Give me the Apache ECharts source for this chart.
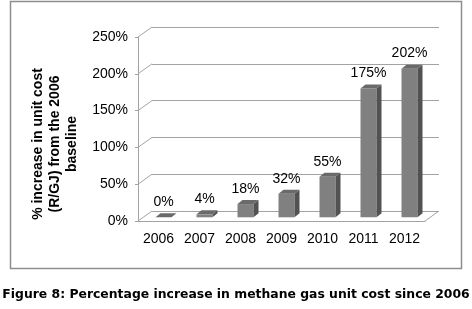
<!DOCTYPE html>
<html lang="en">
<head>
<meta charset="UTF-8">
<title>Methane gas unit cost</title>
<script src="https://cdn.jsdelivr.net/npm/echarts@6/dist/echarts.min.js"></script>
<style>html,body{margin:0;padding:0;background:#fff}</style>
</head>
<body>
<div id="main" style="width:472px;height:309px;"></div>
<script type="text/javascript">
// years on the x axis
var years = ['2006', '2007', '2008', '2009', '2010', '2011', '2012'];
// % increase in unit cost (R/GJ) from the 2006 baseline
var increase = [0, 4, 18, 32, 55, 175, 202];
// y axis ticks
var yTicks = [0, 50, 100, 150, 200, 250];

var font = '"Liberation Sans", Arial, sans-serif';
var gridColor = '#a3a3a3';
var wallX = 14, wallY = -10;   // back wall offset from the front plane

var myChart = echarts.init(document.getElementById('main'));

// 3d-looking bar: front face, right side and top
function renderBar(params, api) {
    var cat = api.value(0), val = api.value(1);
    var base = api.coord([cat, 0]);
    var top = api.coord([cat, val]);
    var w = 16, ox = 5, oy = -3.7, bx = 5, by = -4;
    var x0 = base[0] - w / 2 + ox, x1 = x0 + w;
    var yb = base[1] + oy, yt = top[1] + oy;
    return {
        type: 'group',
        children: [
            { type: 'rect', shape: { x: x0, y: yt, width: w, height: yb - yt }, style: { fill: '#808080' } },
            { type: 'polygon', shape: { points: [[x1, yt], [x1 + bx, yt + by], [x1 + bx, yb + by], [x1, yb]] }, style: { fill: '#525252' } },
            { type: 'polygon', shape: { points: [[x0, yt], [x0 + bx, yt + by], [x1 + bx, yt + by], [x1, yt]] }, style: { fill: '#6a6a6a' } },
            { type: 'text', x: (x0 + x1) / 2, y: yt + by - 4, style: { text: val + '%', textAlign: 'center', textVerticalAlign: 'bottom', font: '14px ' + font, fill: '#000' } }
        ]
    };
}

// little diagonals joining the front axis to the back wall, plus the floor's right edge
function renderWallEdges(params, api) {
    var v = api.value(1);
    var band = api.size([1, 0])[0];
    var p = api.coord([0, v]);
    var left = p[0] - band / 2;
    var kids = [{ type: 'line', shape: { x1: left, y1: p[1], x2: left + wallX, y2: p[1] + wallY }, style: { stroke: gridColor, lineWidth: 1 } }];
    if (v === 0) {
        var right = api.coord([years.length - 1, 0])[0] + band / 2;
        kids.push({ type: 'line', shape: { x1: right, y1: p[1], x2: right + wallX, y2: p[1] + wallY }, style: { stroke: gridColor, lineWidth: 1 } });
    }
    return { type: 'group', children: kids };
}

var option = {
    animation: false,
    title: {
        text: 'Figure 8: Percentage increase in methane gas unit cost since 2006',
        left: 'center',
        top: 284,
        textStyle: { fontFamily: 'DejaVu Sans', fontWeight: 'bold', fontSize: 12.4, color: '#000' }
    },
    grid: [
        { left: 138 + wallX, right: 47 - wallX, top: 37 + wallY, bottom: 88 - wallY },
        { left: 138, right: 47, top: 37, bottom: 88 }
    ],
    xAxis: [
        { gridIndex: 0, type: 'category', data: years, show: false },
        {
            gridIndex: 1, type: 'category', data: years,
            axisLine: { lineStyle: { color: gridColor } },
            axisTick: { show: false },
            axisLabel: { color: '#000', fontFamily: 'Liberation Sans', fontSize: 14, margin: 11 }
        }
    ],
    yAxis: [
        {
            gridIndex: 0, type: 'value', min: 0, max: 250, interval: 50,
            axisLine: { show: false }, axisTick: { show: false }, axisLabel: { show: false },
            splitLine: { lineStyle: { color: gridColor } }
        },
        {
            gridIndex: 1, type: 'value', min: 0, max: 250, interval: 50,
            axisLine: { show: true, lineStyle: { color: gridColor } },
            axisTick: { show: true, length: 3, lineStyle: { color: gridColor } },
            axisLabel: { color: '#000', fontFamily: 'Liberation Sans', fontSize: 14, margin: 10, formatter: '{value}%' },
            splitLine: { show: false }
        }
    ],
    graphic: [
        { type: 'rect', shape: { x: 10.5, y: 1.5, width: 451, height: 267 }, style: { fill: 'none', stroke: '#8f8f8f', lineWidth: 1.5 }, z: -1 },
        {
            type: 'text', x: 55, y: 144, rotation: Math.PI / 2,
            style: {
                text: '% increase in unit cost\n(R/GJ) from the 2006\nbaseline',
                font: 'bold 14px ' + font, textAlign: 'center', textVerticalAlign: 'middle', lineHeight: 17, fill: '#000'
            }
        }
    ],
    series: [
        {
            type: 'custom', xAxisIndex: 1, yAxisIndex: 1, clip: false, silent: true,
            renderItem: renderWallEdges,
            data: yTicks.map(function (v) { return [0, v]; })
        },
        {
            type: 'custom', xAxisIndex: 1, yAxisIndex: 1, clip: false, silent: true,
            renderItem: renderBar,
            data: increase.map(function (v, i) { return [i, v]; }),
            z: 3
        }
    ]
};
myChart.setOption(option);
</script>
</body>
</html>
